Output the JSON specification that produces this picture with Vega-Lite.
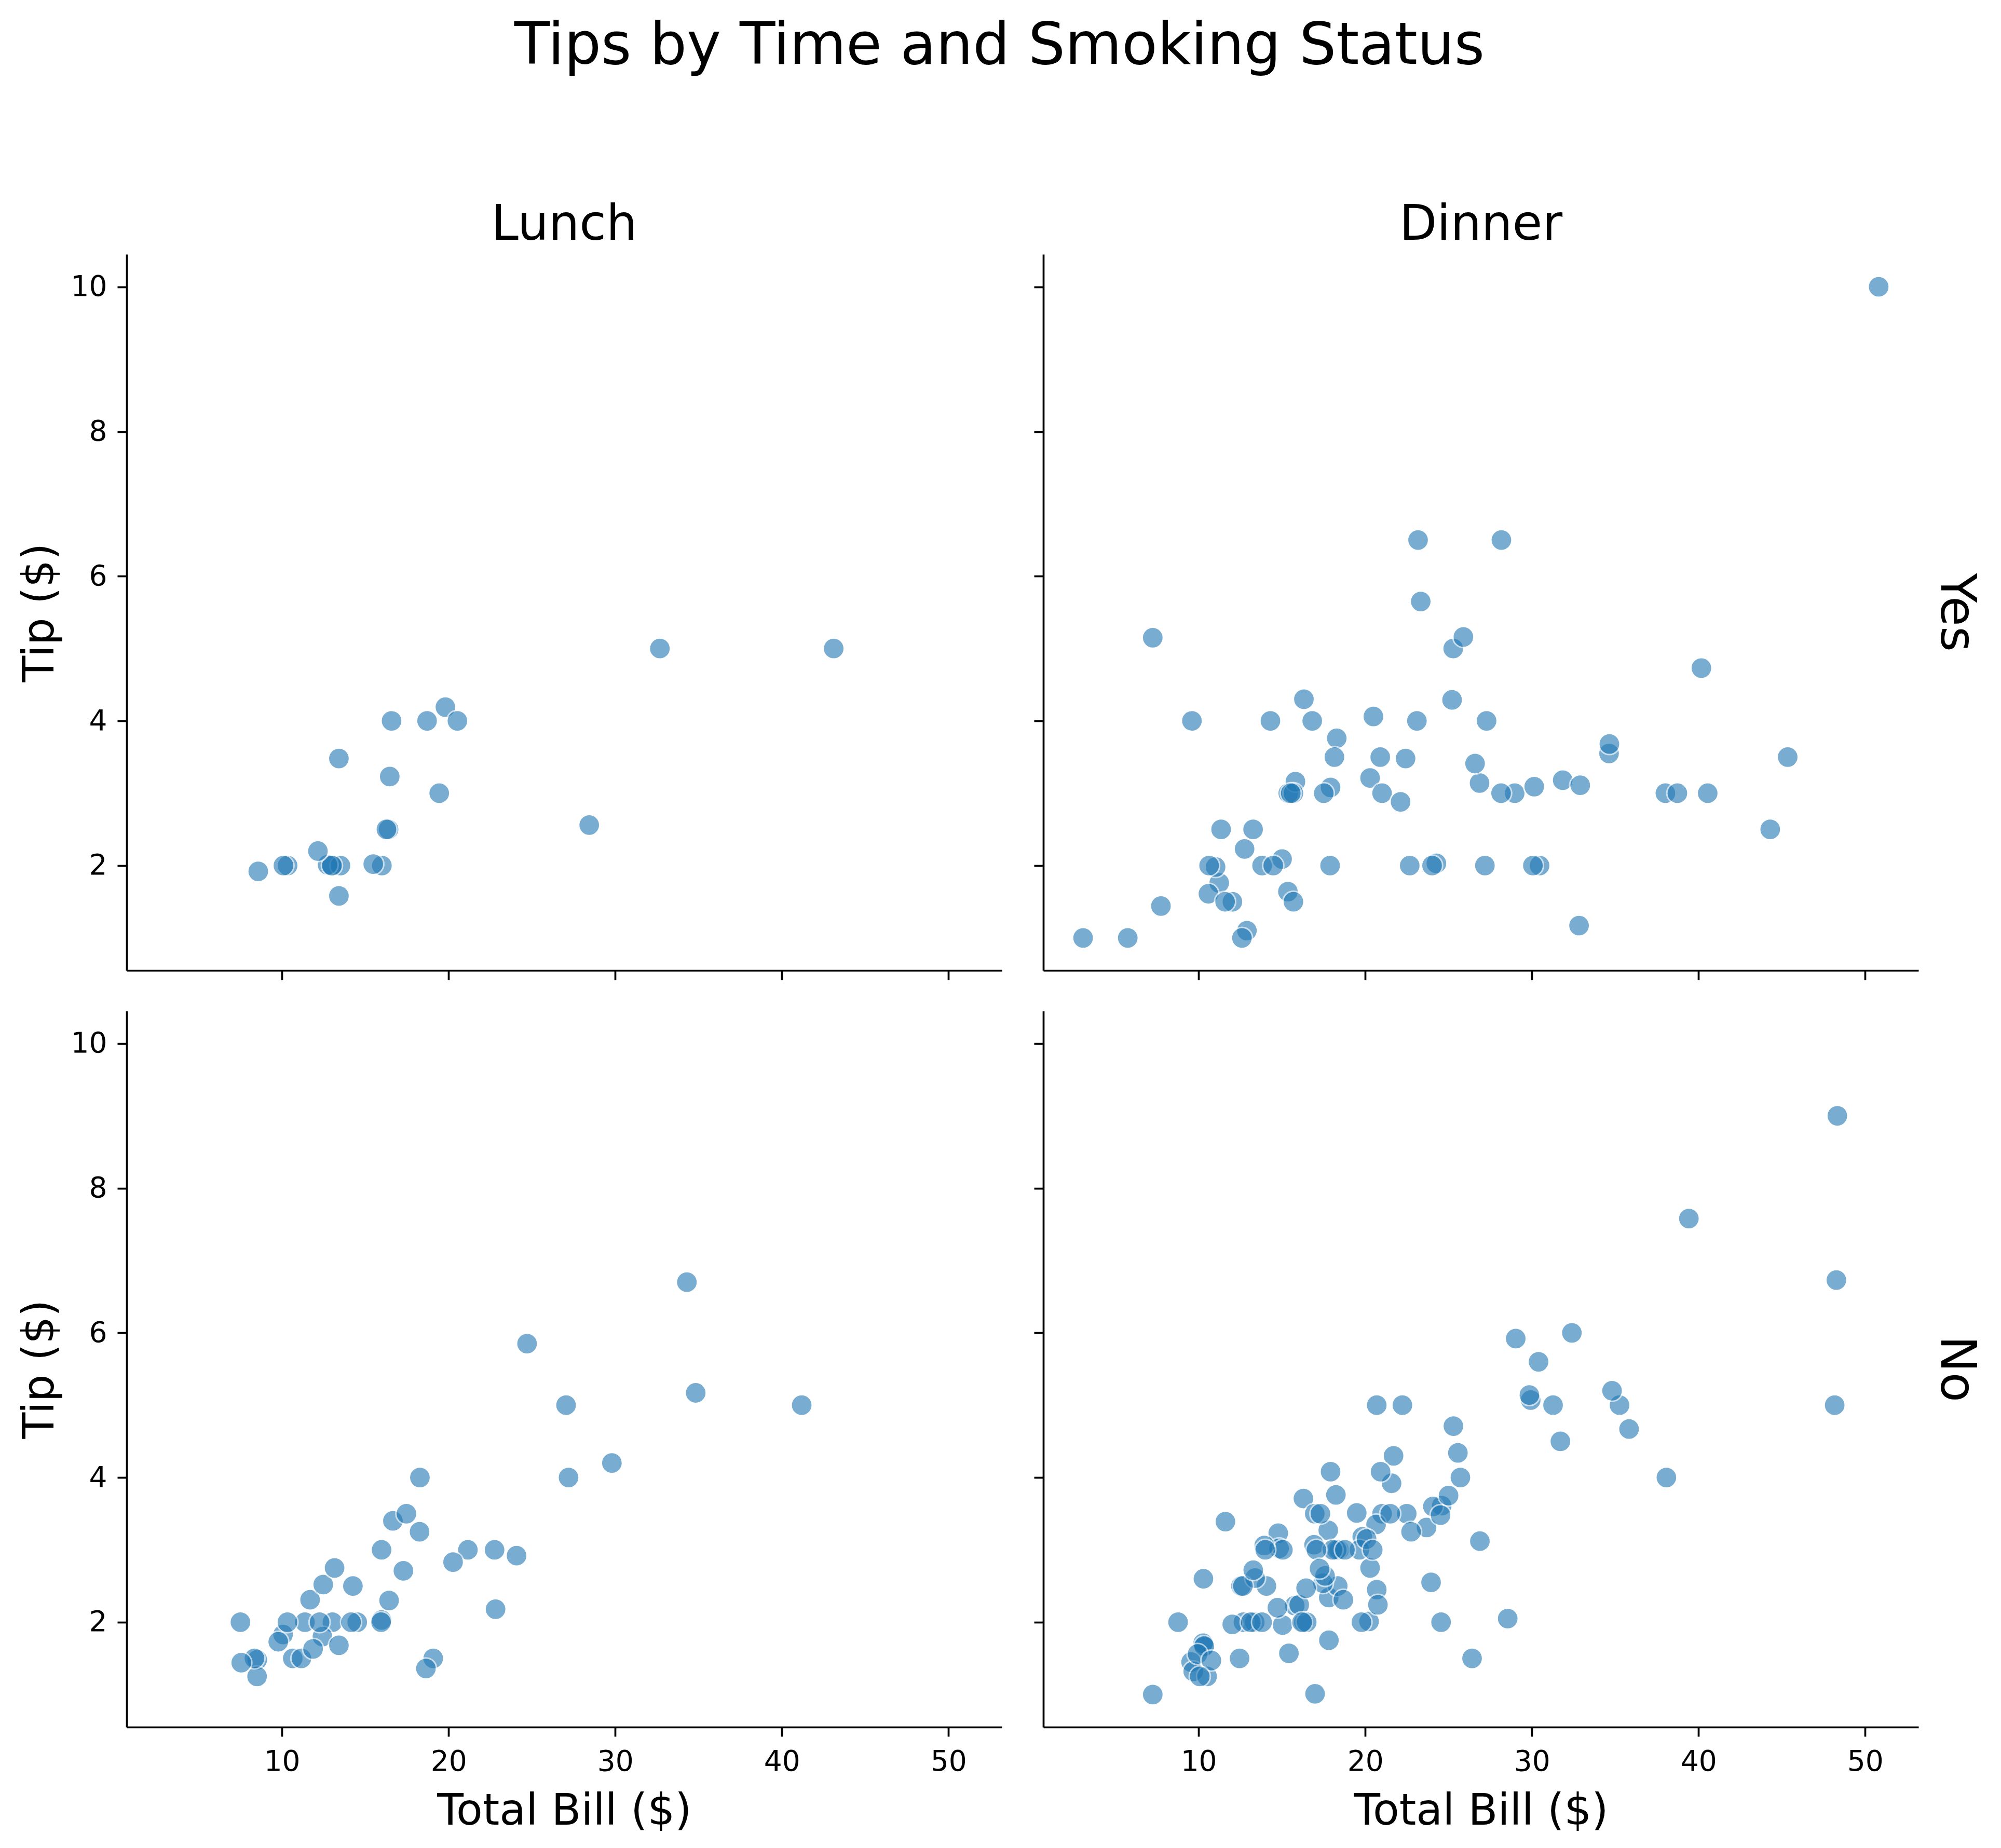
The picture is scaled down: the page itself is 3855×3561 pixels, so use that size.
{
  "$schema": "https://vega.github.io/schema/vega-lite/v6.json",
  "background": "white",
  "padding": {"left": 36, "top": 33, "right": 10, "bottom": 10},
  "title": {"text": "Tips by Time and Smoking Status", "fontSize": 112, "font": "DejaVu Sans", "fontWeight": "normal", "color": "black", "anchor": "middle", "offset": 240},
  "data": {"values": [
    {"total_bill":16.99,"tip":1.01,"smoker":"No","time":"Dinner"},
    {"total_bill":10.34,"tip":1.66,"smoker":"No","time":"Dinner"},
    {"total_bill":21.01,"tip":3.5,"smoker":"No","time":"Dinner"},
    {"total_bill":23.68,"tip":3.31,"smoker":"No","time":"Dinner"},
    {"total_bill":24.59,"tip":3.61,"smoker":"No","time":"Dinner"},
    {"total_bill":25.29,"tip":4.71,"smoker":"No","time":"Dinner"},
    {"total_bill":8.77,"tip":2.0,"smoker":"No","time":"Dinner"},
    {"total_bill":26.88,"tip":3.12,"smoker":"No","time":"Dinner"},
    {"total_bill":15.04,"tip":1.96,"smoker":"No","time":"Dinner"},
    {"total_bill":14.78,"tip":3.23,"smoker":"No","time":"Dinner"},
    {"total_bill":10.27,"tip":1.71,"smoker":"No","time":"Dinner"},
    {"total_bill":35.26,"tip":5.0,"smoker":"No","time":"Dinner"},
    {"total_bill":15.42,"tip":1.57,"smoker":"No","time":"Dinner"},
    {"total_bill":18.43,"tip":3.0,"smoker":"No","time":"Dinner"},
    {"total_bill":14.83,"tip":3.02,"smoker":"No","time":"Dinner"},
    {"total_bill":21.58,"tip":3.92,"smoker":"No","time":"Dinner"},
    {"total_bill":10.33,"tip":1.67,"smoker":"No","time":"Dinner"},
    {"total_bill":16.29,"tip":3.71,"smoker":"No","time":"Dinner"},
    {"total_bill":16.97,"tip":3.5,"smoker":"No","time":"Dinner"},
    {"total_bill":20.65,"tip":3.35,"smoker":"No","time":"Dinner"},
    {"total_bill":17.92,"tip":4.08,"smoker":"No","time":"Dinner"},
    {"total_bill":20.29,"tip":2.75,"smoker":"No","time":"Dinner"},
    {"total_bill":15.77,"tip":2.23,"smoker":"No","time":"Dinner"},
    {"total_bill":39.42,"tip":7.58,"smoker":"No","time":"Dinner"},
    {"total_bill":19.82,"tip":3.18,"smoker":"No","time":"Dinner"},
    {"total_bill":17.81,"tip":2.34,"smoker":"No","time":"Dinner"},
    {"total_bill":13.37,"tip":2.0,"smoker":"No","time":"Dinner"},
    {"total_bill":12.69,"tip":2.0,"smoker":"No","time":"Dinner"},
    {"total_bill":21.7,"tip":4.3,"smoker":"No","time":"Dinner"},
    {"total_bill":19.65,"tip":3.0,"smoker":"No","time":"Dinner"},
    {"total_bill":9.55,"tip":1.45,"smoker":"No","time":"Dinner"},
    {"total_bill":18.35,"tip":2.5,"smoker":"No","time":"Dinner"},
    {"total_bill":15.06,"tip":3.0,"smoker":"No","time":"Dinner"},
    {"total_bill":20.69,"tip":2.45,"smoker":"No","time":"Dinner"},
    {"total_bill":17.78,"tip":3.27,"smoker":"No","time":"Dinner"},
    {"total_bill":24.06,"tip":3.6,"smoker":"No","time":"Dinner"},
    {"total_bill":16.31,"tip":2.0,"smoker":"No","time":"Dinner"},
    {"total_bill":16.93,"tip":3.07,"smoker":"No","time":"Dinner"},
    {"total_bill":18.69,"tip":2.31,"smoker":"No","time":"Dinner"},
    {"total_bill":31.27,"tip":5.0,"smoker":"No","time":"Dinner"},
    {"total_bill":16.04,"tip":2.24,"smoker":"No","time":"Dinner"},
    {"total_bill":17.46,"tip":2.54,"smoker":"No","time":"Dinner"},
    {"total_bill":13.94,"tip":3.06,"smoker":"No","time":"Dinner"},
    {"total_bill":9.68,"tip":1.32,"smoker":"No","time":"Dinner"},
    {"total_bill":30.4,"tip":5.6,"smoker":"No","time":"Dinner"},
    {"total_bill":18.29,"tip":3.0,"smoker":"No","time":"Dinner"},
    {"total_bill":22.23,"tip":5.0,"smoker":"No","time":"Dinner"},
    {"total_bill":32.4,"tip":6.0,"smoker":"No","time":"Dinner"},
    {"total_bill":28.55,"tip":2.05,"smoker":"No","time":"Dinner"},
    {"total_bill":18.04,"tip":3.0,"smoker":"No","time":"Dinner"},
    {"total_bill":12.54,"tip":2.5,"smoker":"No","time":"Dinner"},
    {"total_bill":10.29,"tip":2.6,"smoker":"No","time":"Dinner"},
    {"total_bill":34.81,"tip":5.2,"smoker":"No","time":"Dinner"},
    {"total_bill":9.94,"tip":1.56,"smoker":"No","time":"Dinner"},
    {"total_bill":25.56,"tip":4.34,"smoker":"No","time":"Dinner"},
    {"total_bill":19.49,"tip":3.51,"smoker":"No","time":"Dinner"},
    {"total_bill":38.01,"tip":3.0,"smoker":"Yes","time":"Dinner"},
    {"total_bill":26.41,"tip":1.5,"smoker":"No","time":"Dinner"},
    {"total_bill":11.24,"tip":1.76,"smoker":"Yes","time":"Dinner"},
    {"total_bill":48.27,"tip":6.73,"smoker":"No","time":"Dinner"},
    {"total_bill":20.29,"tip":3.21,"smoker":"Yes","time":"Dinner"},
    {"total_bill":13.81,"tip":2.0,"smoker":"Yes","time":"Dinner"},
    {"total_bill":11.02,"tip":1.98,"smoker":"Yes","time":"Dinner"},
    {"total_bill":18.29,"tip":3.76,"smoker":"Yes","time":"Dinner"},
    {"total_bill":17.59,"tip":2.64,"smoker":"No","time":"Dinner"},
    {"total_bill":20.08,"tip":3.15,"smoker":"No","time":"Dinner"},
    {"total_bill":16.45,"tip":2.47,"smoker":"No","time":"Dinner"},
    {"total_bill":3.07,"tip":1.0,"smoker":"Yes","time":"Dinner"},
    {"total_bill":20.23,"tip":2.01,"smoker":"No","time":"Dinner"},
    {"total_bill":15.01,"tip":2.09,"smoker":"Yes","time":"Dinner"},
    {"total_bill":12.02,"tip":1.97,"smoker":"No","time":"Dinner"},
    {"total_bill":17.07,"tip":3.0,"smoker":"No","time":"Dinner"},
    {"total_bill":26.86,"tip":3.14,"smoker":"Yes","time":"Dinner"},
    {"total_bill":25.28,"tip":5.0,"smoker":"Yes","time":"Dinner"},
    {"total_bill":14.73,"tip":2.2,"smoker":"No","time":"Dinner"},
    {"total_bill":10.51,"tip":1.25,"smoker":"No","time":"Dinner"},
    {"total_bill":17.92,"tip":3.08,"smoker":"Yes","time":"Dinner"},
    {"total_bill":27.2,"tip":4.0,"smoker":"No","time":"Lunch"},
    {"total_bill":22.76,"tip":3.0,"smoker":"No","time":"Lunch"},
    {"total_bill":17.29,"tip":2.71,"smoker":"No","time":"Lunch"},
    {"total_bill":19.44,"tip":3.0,"smoker":"Yes","time":"Lunch"},
    {"total_bill":16.66,"tip":3.4,"smoker":"No","time":"Lunch"},
    {"total_bill":10.07,"tip":1.83,"smoker":"No","time":"Lunch"},
    {"total_bill":32.68,"tip":5.0,"smoker":"Yes","time":"Lunch"},
    {"total_bill":15.98,"tip":2.03,"smoker":"No","time":"Lunch"},
    {"total_bill":34.83,"tip":5.17,"smoker":"No","time":"Lunch"},
    {"total_bill":13.03,"tip":2.0,"smoker":"No","time":"Lunch"},
    {"total_bill":18.28,"tip":4.0,"smoker":"No","time":"Lunch"},
    {"total_bill":24.71,"tip":5.85,"smoker":"No","time":"Lunch"},
    {"total_bill":21.16,"tip":3.0,"smoker":"No","time":"Lunch"},
    {"total_bill":28.97,"tip":3.0,"smoker":"Yes","time":"Dinner"},
    {"total_bill":22.49,"tip":3.5,"smoker":"No","time":"Dinner"},
    {"total_bill":5.75,"tip":1.0,"smoker":"Yes","time":"Dinner"},
    {"total_bill":16.32,"tip":4.3,"smoker":"Yes","time":"Dinner"},
    {"total_bill":22.75,"tip":3.25,"smoker":"No","time":"Dinner"},
    {"total_bill":40.17,"tip":4.73,"smoker":"Yes","time":"Dinner"},
    {"total_bill":27.28,"tip":4.0,"smoker":"Yes","time":"Dinner"},
    {"total_bill":12.03,"tip":1.5,"smoker":"Yes","time":"Dinner"},
    {"total_bill":21.01,"tip":3.0,"smoker":"Yes","time":"Dinner"},
    {"total_bill":12.46,"tip":1.5,"smoker":"No","time":"Dinner"},
    {"total_bill":11.35,"tip":2.5,"smoker":"Yes","time":"Dinner"},
    {"total_bill":15.38,"tip":3.0,"smoker":"Yes","time":"Dinner"},
    {"total_bill":44.3,"tip":2.5,"smoker":"Yes","time":"Dinner"},
    {"total_bill":22.42,"tip":3.48,"smoker":"Yes","time":"Dinner"},
    {"total_bill":20.92,"tip":4.08,"smoker":"No","time":"Dinner"},
    {"total_bill":15.36,"tip":1.64,"smoker":"Yes","time":"Dinner"},
    {"total_bill":20.49,"tip":4.06,"smoker":"Yes","time":"Dinner"},
    {"total_bill":25.21,"tip":4.29,"smoker":"Yes","time":"Dinner"},
    {"total_bill":18.24,"tip":3.76,"smoker":"No","time":"Dinner"},
    {"total_bill":14.31,"tip":4.0,"smoker":"Yes","time":"Dinner"},
    {"total_bill":14.0,"tip":3.0,"smoker":"No","time":"Dinner"},
    {"total_bill":7.25,"tip":1.0,"smoker":"No","time":"Dinner"},
    {"total_bill":38.07,"tip":4.0,"smoker":"No","time":"Dinner"},
    {"total_bill":23.95,"tip":2.55,"smoker":"No","time":"Dinner"},
    {"total_bill":25.71,"tip":4.0,"smoker":"No","time":"Dinner"},
    {"total_bill":17.31,"tip":3.5,"smoker":"No","time":"Dinner"},
    {"total_bill":29.93,"tip":5.07,"smoker":"No","time":"Dinner"},
    {"total_bill":10.65,"tip":1.5,"smoker":"No","time":"Lunch"},
    {"total_bill":12.43,"tip":1.8,"smoker":"No","time":"Lunch"},
    {"total_bill":24.08,"tip":2.92,"smoker":"No","time":"Lunch"},
    {"total_bill":11.69,"tip":2.31,"smoker":"No","time":"Lunch"},
    {"total_bill":13.42,"tip":1.68,"smoker":"No","time":"Lunch"},
    {"total_bill":14.26,"tip":2.5,"smoker":"No","time":"Lunch"},
    {"total_bill":15.95,"tip":2.0,"smoker":"No","time":"Lunch"},
    {"total_bill":12.48,"tip":2.52,"smoker":"No","time":"Lunch"},
    {"total_bill":29.8,"tip":4.2,"smoker":"No","time":"Lunch"},
    {"total_bill":8.52,"tip":1.48,"smoker":"No","time":"Lunch"},
    {"total_bill":14.52,"tip":2.0,"smoker":"No","time":"Lunch"},
    {"total_bill":11.38,"tip":2.0,"smoker":"No","time":"Lunch"},
    {"total_bill":22.82,"tip":2.18,"smoker":"No","time":"Lunch"},
    {"total_bill":19.08,"tip":1.5,"smoker":"No","time":"Lunch"},
    {"total_bill":20.27,"tip":2.83,"smoker":"No","time":"Lunch"},
    {"total_bill":11.17,"tip":1.5,"smoker":"No","time":"Lunch"},
    {"total_bill":12.26,"tip":2.0,"smoker":"No","time":"Lunch"},
    {"total_bill":18.26,"tip":3.25,"smoker":"No","time":"Lunch"},
    {"total_bill":8.51,"tip":1.25,"smoker":"No","time":"Lunch"},
    {"total_bill":10.33,"tip":2.0,"smoker":"No","time":"Lunch"},
    {"total_bill":14.15,"tip":2.0,"smoker":"No","time":"Lunch"},
    {"total_bill":16.0,"tip":2.0,"smoker":"Yes","time":"Lunch"},
    {"total_bill":13.16,"tip":2.75,"smoker":"No","time":"Lunch"},
    {"total_bill":17.47,"tip":3.5,"smoker":"No","time":"Lunch"},
    {"total_bill":34.3,"tip":6.7,"smoker":"No","time":"Lunch"},
    {"total_bill":41.19,"tip":5.0,"smoker":"No","time":"Lunch"},
    {"total_bill":27.05,"tip":5.0,"smoker":"No","time":"Lunch"},
    {"total_bill":16.43,"tip":2.3,"smoker":"No","time":"Lunch"},
    {"total_bill":8.35,"tip":1.5,"smoker":"No","time":"Lunch"},
    {"total_bill":18.64,"tip":1.36,"smoker":"No","time":"Lunch"},
    {"total_bill":11.87,"tip":1.63,"smoker":"No","time":"Lunch"},
    {"total_bill":9.78,"tip":1.73,"smoker":"No","time":"Lunch"},
    {"total_bill":7.51,"tip":2.0,"smoker":"No","time":"Lunch"},
    {"total_bill":14.07,"tip":2.5,"smoker":"No","time":"Dinner"},
    {"total_bill":13.13,"tip":2.0,"smoker":"No","time":"Dinner"},
    {"total_bill":17.26,"tip":2.74,"smoker":"No","time":"Dinner"},
    {"total_bill":24.55,"tip":2.0,"smoker":"No","time":"Dinner"},
    {"total_bill":19.77,"tip":2.0,"smoker":"No","time":"Dinner"},
    {"total_bill":29.85,"tip":5.14,"smoker":"No","time":"Dinner"},
    {"total_bill":48.17,"tip":5.0,"smoker":"No","time":"Dinner"},
    {"total_bill":25.0,"tip":3.75,"smoker":"No","time":"Dinner"},
    {"total_bill":13.39,"tip":2.61,"smoker":"No","time":"Dinner"},
    {"total_bill":16.49,"tip":2.0,"smoker":"No","time":"Dinner"},
    {"total_bill":21.5,"tip":3.5,"smoker":"No","time":"Dinner"},
    {"total_bill":12.66,"tip":2.5,"smoker":"No","time":"Dinner"},
    {"total_bill":16.21,"tip":2.0,"smoker":"No","time":"Dinner"},
    {"total_bill":13.81,"tip":2.0,"smoker":"No","time":"Dinner"},
    {"total_bill":17.51,"tip":3.0,"smoker":"Yes","time":"Dinner"},
    {"total_bill":24.52,"tip":3.48,"smoker":"No","time":"Dinner"},
    {"total_bill":20.76,"tip":2.24,"smoker":"No","time":"Dinner"},
    {"total_bill":31.71,"tip":4.5,"smoker":"No","time":"Dinner"},
    {"total_bill":10.59,"tip":1.61,"smoker":"Yes","time":"Dinner"},
    {"total_bill":10.63,"tip":2.0,"smoker":"Yes","time":"Dinner"},
    {"total_bill":50.81,"tip":10.0,"smoker":"Yes","time":"Dinner"},
    {"total_bill":15.81,"tip":3.16,"smoker":"Yes","time":"Dinner"},
    {"total_bill":7.25,"tip":5.15,"smoker":"Yes","time":"Dinner"},
    {"total_bill":31.85,"tip":3.18,"smoker":"Yes","time":"Dinner"},
    {"total_bill":16.82,"tip":4.0,"smoker":"Yes","time":"Dinner"},
    {"total_bill":32.9,"tip":3.11,"smoker":"Yes","time":"Dinner"},
    {"total_bill":17.89,"tip":2.0,"smoker":"Yes","time":"Dinner"},
    {"total_bill":14.48,"tip":2.0,"smoker":"Yes","time":"Dinner"},
    {"total_bill":9.6,"tip":4.0,"smoker":"Yes","time":"Dinner"},
    {"total_bill":34.63,"tip":3.55,"smoker":"Yes","time":"Dinner"},
    {"total_bill":34.65,"tip":3.68,"smoker":"Yes","time":"Dinner"},
    {"total_bill":23.33,"tip":5.65,"smoker":"Yes","time":"Dinner"},
    {"total_bill":45.35,"tip":3.5,"smoker":"Yes","time":"Dinner"},
    {"total_bill":23.17,"tip":6.5,"smoker":"Yes","time":"Dinner"},
    {"total_bill":40.55,"tip":3.0,"smoker":"Yes","time":"Dinner"},
    {"total_bill":20.69,"tip":5.0,"smoker":"No","time":"Dinner"},
    {"total_bill":20.9,"tip":3.5,"smoker":"Yes","time":"Dinner"},
    {"total_bill":30.46,"tip":2.0,"smoker":"Yes","time":"Dinner"},
    {"total_bill":18.15,"tip":3.5,"smoker":"Yes","time":"Dinner"},
    {"total_bill":23.1,"tip":4.0,"smoker":"Yes","time":"Dinner"},
    {"total_bill":15.69,"tip":1.5,"smoker":"Yes","time":"Dinner"},
    {"total_bill":19.81,"tip":4.19,"smoker":"Yes","time":"Lunch"},
    {"total_bill":28.44,"tip":2.56,"smoker":"Yes","time":"Lunch"},
    {"total_bill":15.48,"tip":2.02,"smoker":"Yes","time":"Lunch"},
    {"total_bill":16.58,"tip":4.0,"smoker":"Yes","time":"Lunch"},
    {"total_bill":7.56,"tip":1.44,"smoker":"No","time":"Lunch"},
    {"total_bill":10.34,"tip":2.0,"smoker":"Yes","time":"Lunch"},
    {"total_bill":43.11,"tip":5.0,"smoker":"Yes","time":"Lunch"},
    {"total_bill":13.0,"tip":2.0,"smoker":"Yes","time":"Lunch"},
    {"total_bill":13.51,"tip":2.0,"smoker":"Yes","time":"Lunch"},
    {"total_bill":18.71,"tip":4.0,"smoker":"Yes","time":"Lunch"},
    {"total_bill":12.74,"tip":2.01,"smoker":"Yes","time":"Lunch"},
    {"total_bill":13.0,"tip":2.0,"smoker":"Yes","time":"Lunch"},
    {"total_bill":16.4,"tip":2.5,"smoker":"Yes","time":"Lunch"},
    {"total_bill":20.53,"tip":4.0,"smoker":"Yes","time":"Lunch"},
    {"total_bill":16.47,"tip":3.23,"smoker":"Yes","time":"Lunch"},
    {"total_bill":26.59,"tip":3.41,"smoker":"Yes","time":"Dinner"},
    {"total_bill":38.73,"tip":3.0,"smoker":"Yes","time":"Dinner"},
    {"total_bill":24.27,"tip":2.03,"smoker":"Yes","time":"Dinner"},
    {"total_bill":12.76,"tip":2.23,"smoker":"Yes","time":"Dinner"},
    {"total_bill":30.06,"tip":2.0,"smoker":"Yes","time":"Dinner"},
    {"total_bill":25.89,"tip":5.16,"smoker":"Yes","time":"Dinner"},
    {"total_bill":48.33,"tip":9.0,"smoker":"No","time":"Dinner"},
    {"total_bill":13.27,"tip":2.5,"smoker":"Yes","time":"Dinner"},
    {"total_bill":28.17,"tip":6.5,"smoker":"Yes","time":"Dinner"},
    {"total_bill":12.9,"tip":1.1,"smoker":"Yes","time":"Dinner"},
    {"total_bill":28.15,"tip":3.0,"smoker":"Yes","time":"Dinner"},
    {"total_bill":11.59,"tip":1.5,"smoker":"Yes","time":"Dinner"},
    {"total_bill":7.74,"tip":1.44,"smoker":"Yes","time":"Dinner"},
    {"total_bill":30.14,"tip":3.09,"smoker":"Yes","time":"Dinner"},
    {"total_bill":12.16,"tip":2.2,"smoker":"Yes","time":"Lunch"},
    {"total_bill":13.42,"tip":3.48,"smoker":"Yes","time":"Lunch"},
    {"total_bill":8.58,"tip":1.92,"smoker":"Yes","time":"Lunch"},
    {"total_bill":15.98,"tip":3.0,"smoker":"No","time":"Lunch"},
    {"total_bill":13.42,"tip":1.58,"smoker":"Yes","time":"Lunch"},
    {"total_bill":16.27,"tip":2.5,"smoker":"Yes","time":"Lunch"},
    {"total_bill":10.09,"tip":2.0,"smoker":"Yes","time":"Lunch"},
    {"total_bill":20.45,"tip":3.0,"smoker":"No","time":"Dinner"},
    {"total_bill":13.28,"tip":2.72,"smoker":"No","time":"Dinner"},
    {"total_bill":22.12,"tip":2.88,"smoker":"Yes","time":"Dinner"},
    {"total_bill":24.01,"tip":2.0,"smoker":"Yes","time":"Dinner"},
    {"total_bill":15.69,"tip":3.0,"smoker":"Yes","time":"Dinner"},
    {"total_bill":11.61,"tip":3.39,"smoker":"No","time":"Dinner"},
    {"total_bill":10.77,"tip":1.47,"smoker":"No","time":"Dinner"},
    {"total_bill":15.53,"tip":3.0,"smoker":"Yes","time":"Dinner"},
    {"total_bill":10.07,"tip":1.25,"smoker":"No","time":"Dinner"},
    {"total_bill":12.6,"tip":1.0,"smoker":"Yes","time":"Dinner"},
    {"total_bill":32.83,"tip":1.17,"smoker":"Yes","time":"Dinner"},
    {"total_bill":35.83,"tip":4.67,"smoker":"No","time":"Dinner"},
    {"total_bill":29.03,"tip":5.92,"smoker":"No","time":"Dinner"},
    {"total_bill":27.18,"tip":2.0,"smoker":"Yes","time":"Dinner"},
    {"total_bill":22.67,"tip":2.0,"smoker":"Yes","time":"Dinner"},
    {"total_bill":17.82,"tip":1.75,"smoker":"No","time":"Dinner"},
    {"total_bill":18.78,"tip":3.0,"smoker":"No","time":"Dinner"}
  ]},
  "spacing": 58,
  "vconcat": [
    {
      "spacing": 60,
      "hconcat": [
        {
          "transform": [{"filter": "datum.smoker === 'Yes' && datum.time === 'Lunch'"}],
          "facet": {"column": {"field": "time", "type": "nominal", "header": {"title": null, "labelPadding": 8}}},
          "spec": {
            "width": 1686, "height": 1380,
            "mark": {"type": "circle", "size": 1662, "fill": "#1f77b4", "stroke": "white", "strokeWidth": 3, "opacity": 0.6},
            "encoding": {
              "x": {"field": "total_bill", "type": "quantitative", "scale": {"domain": [0.683, 53.197], "nice": false, "zero": false}, "axis": {"values": [10, 20, 30, 40, 50], "labels": false, "title": null}},
              "y": {"field": "tip", "type": "quantitative", "scale": {"domain": [0.55, 10.45], "nice": false, "zero": false}, "axis": {"values": [2, 4, 6, 8, 10], "title": "Tip ($)"}}
            }
          }
        },
        {
          "transform": [{"filter": "datum.smoker === 'Yes' && datum.time === 'Dinner'"}],
          "facet": {
            "column": {"field": "time", "type": "nominal", "header": {"title": null, "labelPadding": 8}},
            "row": {"field": "smoker", "type": "nominal", "header": {"title": null, "labelOrient": "right", "labelAngle": 90, "labelAlign": "center", "labelBaseline": "alphabetic", "labelPadding": -50}}
          },
          "spec": {
            "width": 1686, "height": 1380,
            "mark": {"type": "circle", "size": 1662, "fill": "#1f77b4", "stroke": "white", "strokeWidth": 3, "opacity": 0.6},
            "encoding": {
              "x": {"field": "total_bill", "type": "quantitative", "scale": {"domain": [0.683, 53.197], "nice": false, "zero": false}, "axis": {"values": [10, 20, 30, 40, 50], "labels": false, "title": null}},
              "y": {"field": "tip", "type": "quantitative", "scale": {"domain": [0.55, 10.45], "nice": false, "zero": false}, "axis": {"values": [2, 4, 6, 8, 10], "labels": false, "title": null}}
            }
          }
        }
      ]
    },
    {
      "spacing": 60,
      "hconcat": [
        {
          "transform": [{"filter": "datum.smoker === 'No' && datum.time === 'Lunch'"}],
          "width": 1686, "height": 1380,
          "mark": {"type": "circle", "size": 1662, "fill": "#1f77b4", "stroke": "white", "strokeWidth": 3, "opacity": 0.6},
          "encoding": {
            "x": {"field": "total_bill", "type": "quantitative", "scale": {"domain": [0.683, 53.197], "nice": false, "zero": false}, "axis": {"values": [10, 20, 30, 40, 50], "title": "Total Bill ($)"}},
            "y": {"field": "tip", "type": "quantitative", "scale": {"domain": [0.55, 10.45], "nice": false, "zero": false}, "axis": {"values": [2, 4, 6, 8, 10], "title": "Tip ($)"}}
          }
        },
        {
          "transform": [{"filter": "datum.smoker === 'No' && datum.time === 'Dinner'"}],
          "facet": {
            "row": {"field": "smoker", "type": "nominal", "header": {"title": null, "labelOrient": "right", "labelAngle": 90, "labelAlign": "center", "labelBaseline": "alphabetic", "labelPadding": -50}}
          },
          "spec": {
            "width": 1686, "height": 1380,
            "mark": {"type": "circle", "size": 1662, "fill": "#1f77b4", "stroke": "white", "strokeWidth": 3, "opacity": 0.6},
            "encoding": {
              "x": {"field": "total_bill", "type": "quantitative", "scale": {"domain": [0.683, 53.197], "nice": false, "zero": false}, "axis": {"values": [10, 20, 30, 40, 50], "title": "Total Bill ($)"}},
              "y": {"field": "tip", "type": "quantitative", "scale": {"domain": [0.55, 10.45], "nice": false, "zero": false}, "axis": {"values": [2, 4, 6, 8, 10], "labels": false, "title": null}}
            }
          }
        }
      ]
    }
  ],
  "config": {
    "view": {"stroke": null},
    "font": "DejaVu Sans",
    "axis": {
      "grid": false,
      "domainColor": "black", "domainWidth": 3.7,
      "tickColor": "black", "tickWidth": 3.7, "tickSize": 18,
      "labelFont": "DejaVu Sans", "labelFontSize": 55, "labelColor": "black", "labelPadding": 20,
      "titleFont": "DejaVu Sans", "titleFontSize": 83, "titleFontWeight": "normal", "titleColor": "black", "titlePadding": 17
    },
    "axisX": {"titlePadding": 27, "labelPadding": 22},
    "header": {"labelFont": "DejaVu Sans", "labelFontSize": 94, "labelColor": "black"}
  }
}
